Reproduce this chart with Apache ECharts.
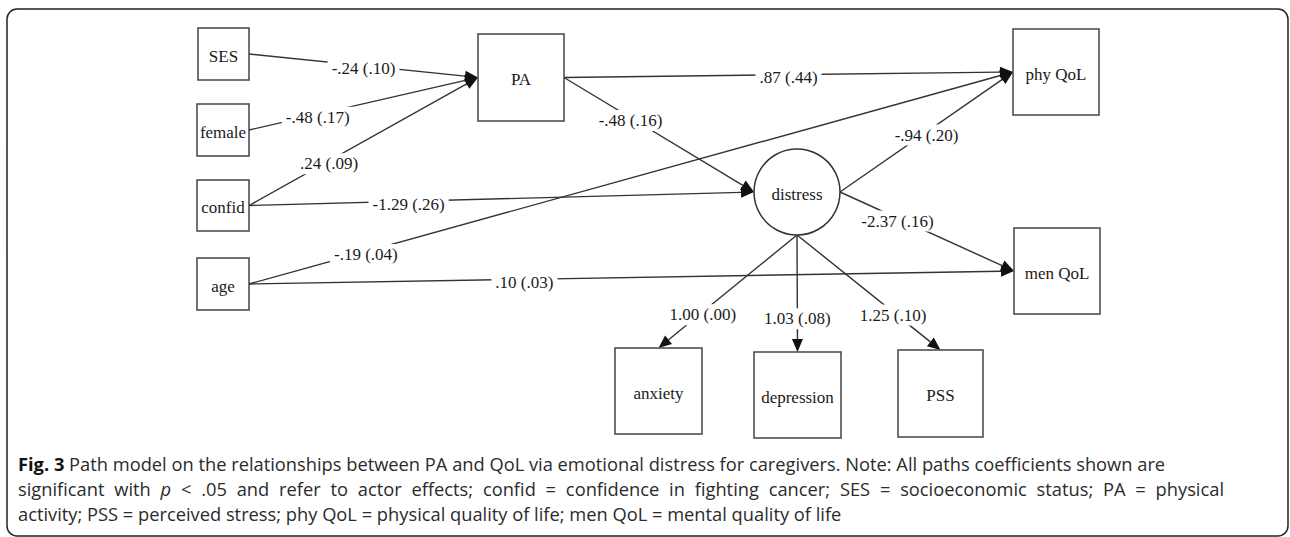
<!DOCTYPE html>
<html><head><meta charset="utf-8">
<script src="https://cdn.jsdelivr.net/npm/echarts@6/dist/echarts.min.js"></script>
<style>html,body{margin:0;padding:0;background:#fff}#c{width:1290px;height:537px}</style>
</head><body><div id="c"></div>
<script>
// ---------- data ----------
const nodeNames = ['SES','female','confid','age','PA','distress','phy QoL','men QoL','anxiety','depression','PSS'];
const nodeShapes = ['box','box','box','box','box','circle','box','box','box','box','box'];
const edgeFrom = ['SES','female','confid','confid','age','age','PA','PA','distress','distress','distress','distress','distress'];
const edgeTo   = ['PA','PA','PA','distress','phy QoL','men QoL','phy QoL','distress','phy QoL','men QoL','anxiety','depression','PSS'];
const coefs    = ['-.24','-.48','.24','-1.29','-.19','.10','.87','-.48','-.94','-2.37','1.00','1.03','1.25'];
const stdErrs  = ['.10','.17','.09','.26','.04','.03','.44','.16','.20','.16','.00','.08','.10'];
const captionBold = 'Fig. 3';
const captionLine1 = 'Path model on the relationships between PA and QoL via emotional distress for caregivers. Note: All paths coefficients shown are';
const captionLine2 = ['significant','with','{i|p}','<','.05','and','refer','to','actor','effects;','confid','=','confidence','in','fighting','cancer;','SES','=','socioeconomic','status;','PA','=','physical'];
const captionLine3 = 'activity; PSS = perceived stress; phy QoL = physical quality of life; men QoL = mental quality of life';

// ---------- layout (diagram units = pixels of the 1290x537 canvas) ----------
const nodeLayout = {
  'SES':       {x0:198, y0:28,  x1:249, y1:80},
  'female':    {x0:197, y0:104, x1:249, y1:156},
  'confid':    {x0:197, y0:180, x1:249, y1:231},
  'age':       {x0:197, y0:258, x1:249, y1:310},
  'PA':        {x0:478, y0:34,  x1:564, y1:121},
  'distress':  {cx:797, cy:192, r:43},
  'phy QoL':   {x0:1013,y0:29,  x1:1099,y1:115},
  'men QoL':   {x0:1014,y0:228, x1:1100,y1:314},
  'anxiety':   {x0:615, y0:348, x1:702, y1:434},
  'depression':{x0:754, y0:352, x1:841, y1:438},
  'PSS':       {x0:898, y0:350, x1:983, y1:437}
};
const edgeSides = [['r','l'],['r','l'],['r','l'],['r','l'],['r','l'],['r','l'],['r','l'],['r','l'],['r','l'],['r','l'],['b','t'],['b','t'],['b','t']];
const labelAt = [0.5,0.3,0.35,0.316,0.153,0.36,0.5,0.35,0.5,0.33,0.68,0.69,0.67];

const SERIF = 'Liberation Serif';
const SANS = 'Open Sans';
const INK = '#2b2b2b';

function anchor(name, side){
  const L = nodeLayout[name];
  if (L.r !== undefined){
    if (side==='l') return [L.cx-L.r, L.cy];
    if (side==='r') return [L.cx+L.r, L.cy];
    if (side==='b') return [L.cx, L.cy+L.r];
    return [L.cx, L.cy-L.r];
  }
  const cx=(L.x0+L.x1)/2, cy=(L.y0+L.y1)/2;
  if (side==='l') return [L.x0, cy];
  if (side==='r') return [L.x1, cy];
  if (side==='b') return [cx, L.y1];
  return [cx, L.y0];
}

const chart = echarts.init(document.getElementById('c'), null, {renderer:'svg'});

// caption layout with measured words
const mc = document.createElement('canvas').getContext('2d');
function measure(txt, font){ mc.font = font; return mc.measureText(txt).width; }
let capSize = 16;
{
  const w = measure(' '+captionLine1, `${capSize}px "${SANS}"`) + measure(captionBold, `bold ${capSize}px "${SANS}"`);
  capSize = Math.min(18.3, Math.round(capSize * 1175 / w * 10) / 10);
}
const capFontCss = `${capSize}px "${SANS}"`;
const capX = 18, capRight = 1224, capLH = 20;
const capY = [463, 488, 513];
const graphics = [];
graphics.push({type:'rect', shape:{x:7,y:9,width:1281,height:527,r:10}, style:{fill:'none', stroke:'#222', lineWidth:1.5}, silent:true});
const boldW = measure(captionBold + ' ', `bold ${capFontCss}`);
graphics.push({type:'text', x:capX, y:capY[0], style:{text:captionBold, fontSize:capSize, fontFamily:SANS, fontWeight:'bold', fill:'#111', verticalAlign:'middle', lineHeight:capLH}});
graphics.push({type:'text', x:capX+boldW, y:capY[0], style:{text:captionLine1, fontSize:capSize, fontFamily:SANS, fill:INK, verticalAlign:'middle', lineHeight:capLH}});
{
  const widths = captionLine2.map(w => w.startsWith('{i|') ? measure('p', `italic ${capFontCss}`) : measure(w, capFontCss));
  const total = widths.reduce((a,b)=>a+b,0);
  const gap = (capRight - capX - total) / (captionLine2.length-1);
  let x = capX;
  captionLine2.forEach((w,i)=>{
    const it = w.startsWith('{i|');
    graphics.push({type:'text', x:x, y:capY[1], style:{text: it?'p':w, fontSize:capSize, fontFamily:SANS, fontStyle: it?'italic':'normal', fill:INK, verticalAlign:'middle', lineHeight:capLH}});
    x += widths[i] + gap;
  });
}
graphics.push({type:'text', x:capX, y:capY[2], style:{text:captionLine3, fontSize:capSize, fontFamily:SANS, fill:INK, verticalAlign:'middle', lineHeight:capLH}});

const option = {
  animation:false,
  backgroundColor:'#fff',
  grid:{left:0,right:0,top:0,bottom:0},
  xAxis:{type:'value', min:0, max:1290, show:false},
  yAxis:{type:'value', min:0, max:537, inverse:true, show:false},
  series:[
    { // paths
      type:'custom', coordinateSystem:'cartesian2d', z:1, silent:true,
      data: edgeFrom.map((f,i)=>[i,i]),
      renderItem:(params, api)=>{
        const i = params.dataIndex;
        const p0 = api.coord(anchor(edgeFrom[i], edgeSides[i][0]));
        const p1 = api.coord(anchor(edgeTo[i], edgeSides[i][1]));
        const dx=p1[0]-p0[0], dy=p1[1]-p0[1], len=Math.hypot(dx,dy);
        const ux=dx/len, uy=dy/len, L=13, H=5.5;
        const bx=p1[0]-ux*L, by=p1[1]-uy*L;
        return {type:'group', children:[
          {type:'line', shape:{x1:p0[0],y1:p0[1],x2:bx,y2:by}, style:{stroke:'#333', lineWidth:1.4}},
          {type:'polygon', shape:{points:[[p1[0],p1[1]],[bx-uy*H,by+ux*H],[bx+uy*H,by-ux*H]]}, style:{fill:'#111'}}
        ]};
      }
    },
    { // coefficient labels
      type:'custom', coordinateSystem:'cartesian2d', z:3, silent:true,
      data: coefs.map((c,i)=>[i,i]),
      renderItem:(params, api)=>{
        const i = params.dataIndex;
        const a = anchor(edgeFrom[i], edgeSides[i][0]);
        const b = anchor(edgeTo[i], edgeSides[i][1]);
        const t = labelAt[i];
        const p = api.coord([a[0]+(b[0]-a[0])*t, a[1]+(b[1]-a[1])*t]);
        return {type:'text', x:p[0], y:p[1]+3, style:{
          text: coefs[i]+' ('+stdErrs[i]+')', fontSize:17, fontFamily:SERIF, fill:'#1a1a1a',
          align:'center', verticalAlign:'middle', backgroundColor:'#fff', padding:[1,4], lineHeight:19
        }};
      }
    },
    { // variables
      type:'custom', coordinateSystem:'cartesian2d', z:2, silent:true,
      data: nodeNames.map((n,i)=>[i,i]),
      renderItem:(params, api)=>{
        const i = params.dataIndex, name = nodeNames[i], L = nodeLayout[name];
        let shape, c;
        if (nodeShapes[i]==='circle'){
          c = api.coord([L.cx, L.cy]);
          const e = api.coord([L.cx+L.r, L.cy]);
          shape = {type:'circle', shape:{cx:c[0], cy:c[1], r:e[0]-c[0]}, style:{fill:'#fff', stroke:'#333', lineWidth:1.5}};
        } else {
          const a = api.coord([L.x0, L.y0]), b = api.coord([L.x1, L.y1]);
          c = [(a[0]+b[0])/2, (a[1]+b[1])/2];
          shape = {type:'rect', shape:{x:a[0], y:a[1], width:b[0]-a[0], height:b[1]-a[1]}, style:{fill:'#fff', stroke:'#444', lineWidth:1.5}};
        }
        return {type:'group', children:[
          shape,
          {type:'text', x:c[0], y:c[1]+2, style:{text:name, fontSize:17, fontFamily:SERIF, fill:'#1a1a1a', align:'center', verticalAlign:'middle', lineHeight:19}}
        ]};
      }
    }
  ],
  graphic: graphics
};
chart.setOption(option);
</script>
</body></html>
